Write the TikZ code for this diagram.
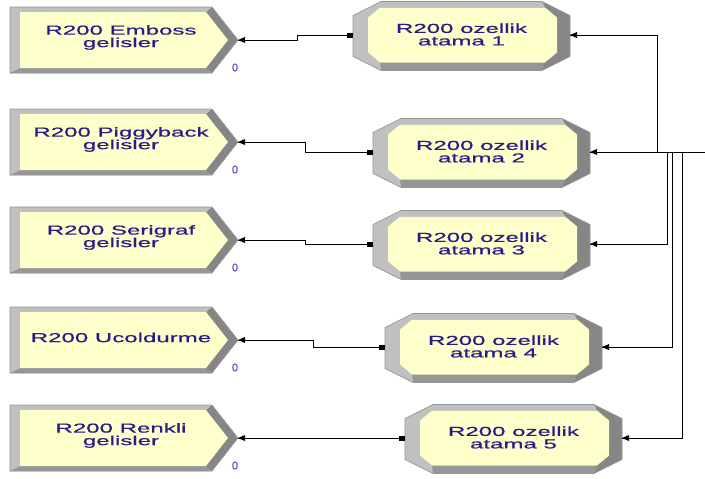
\documentclass[tikz,border=0pt]{standalone}
\usepackage{fontspec}
\setmainfont{Liberation Sans}
\newfontfamily\modfont[FakeStretch=1.85,FakeBold=0.7]{Liberation Sans}
\newfontfamily\countfont[FakeBold=0.5]{Liberation Sans}
\usetikzlibrary{calc}

\definecolor{modfill}{RGB}{255,255,204}
\definecolor{bevlight}{RGB}{192,192,192}
\definecolor{bevdark}{RGB}{134,134,134}
\definecolor{bevmid}{RGB}{150,150,150}
\definecolor{edgegray}{RGB}{150,150,150}
\definecolor{modtextcol}{RGB}{40,28,135}
\definecolor{countcol}{RGB}{80,80,205}

\tikzset{
  modtext/.style={text=modtextcol, align=center, inner sep=0pt,
    font=\modfont\fontsize{13}{12.5}\selectfont},
  counter/.style={text=countcol, inner sep=0pt,
    font=\countfont\fontsize{11}{11}\selectfont},
  conn/.style={line width=1pt, black},
  edge/.style={draw=edgegray, line width=0.6pt, line join=miter},
  % Create module: pointed box, origin at left edge, vertical centre
  pics/createmod/.style={code={
    \fill[bevdark] (0,-33) -- (202,-33) -- (228,0) -- (202,33) -- (0,33) -- cycle;
    \fill[bevmid] (0,33) -- (10,28) -- (196,28) -- (202,33) -- cycle;
    \fill[bevlight] (0,33) -- (0,-33) -- (202,-33) -- (196,-28) -- (10,-28) -- (10,28) -- cycle;
    \fill[modfill] (10,-28) -- (196,-28) -- (218,0) -- (196,28) -- (10,28) -- cycle;
    \draw[edge] (0,-33) -- (202,-33) -- (228,0) -- (202,33) -- (0,33) -- cycle;
    \node[modtext] (-label) at (111,-2.5) {#1};
    \node[counter] (-count) at (225,27.5) {0};
    \coordinate (-out) at (228,0);
    \fill[black] (228,0) -- (235,-3) -- (235,3) -- cycle;
  }},
  % Assign module: bevelled octagon, origin at left edge, vertical centre
  pics/assignmod/.style={code={
    \fill[bevdark] (0,-20.5) -- (28,-34.5) -- (189,-34.5) -- (217,-20.5) -- (217,20.5)
      -- (189,34.5) -- (28,34.5) -- (0,20.5) -- cycle;
    \fill[bevmid] (28,34.5) -- (27,26.5) -- (192,26.5) -- (189,34.5) -- cycle;
    \fill[bevlight] (28,34.5) -- (0,20.5) -- (0,-20.5) -- (28,-34.5) -- (189,-34.5)
      -- (192,-28.5) -- (27,-28.5) -- (15,-18.5) -- (15,16.5) -- (27,26.5) -- cycle;
    \fill[modfill] (15,-18.5) -- (27,-28.5) -- (192,-28.5) -- (204,-18.5) -- (204,16.5)
      -- (192,26.5) -- (27,26.5) -- (15,16.5) -- cycle;
    \draw[edge] (0,-20.5) -- (28,-34.5) -- (189,-34.5) -- (217,-20.5) -- (217,20.5)
      -- (189,34.5) -- (28,34.5) -- (0,20.5) -- cycle;
    \node[modtext] (-label) at (108.5,-1.5) {#1};
    \coordinate (-in) at (0,-1);
    \coordinate (-out) at (217,-1);
    \fill[black] (-6,-3.5) rectangle (0,1.5);
    \fill[black] (217,-1) -- (224,-4) -- (224,2) -- cycle;
  }},
}

\begin{document}
\begin{tikzpicture}[x=1pt, y=-1pt]
  \fill[white] (0,0) rectangle (705,479);
  \useasboundingbox (0,0) rectangle (705,479);

  % arrival modules
  \pic (c1) at (10,40)  {createmod={R200 Emboss\\gelisler}};
  \pic (c2) at (10,142) {createmod={R200 Piggyback\\gelisler}};
  \pic (c3) at (10,240) {createmod={R200 Serigraf\\gelisler}};
  \pic (c4) at (10,340) {createmod={R200 Ucoldurme}};
  \pic (c5) at (10,438) {createmod={R200 Renkli\\gelisler}};

  % attribute assignment modules
  \pic (a1) at (353,36)  {assignmod={R200 ozellik\\atama 1}};
  \pic (a2) at (373,153) {assignmod={R200 ozellik\\atama 2}};
  \pic (a3) at (373,245) {assignmod={R200 ozellik\\atama 3}};
  \pic (a4) at (385,348) {assignmod={R200 ozellik\\atama 4}};
  \pic (a5) at (405,439) {assignmod={R200 ozellik\\atama 5}};

  % junctions on the collecting line
  \coordinate (j1) at (657,152);
  \coordinate (j3) at (667,152);
  \coordinate (j4) at (672,152);
  \coordinate (j5) at (682,152);
  \coordinate (busend) at (705,152);

  % arrivals into assignments
  \draw[conn] (c1-out) -- ++(59,0) |- (a1-in);
  \draw[conn] (c2-out) -- ++(67,0) |- (a2-in);
  \draw[conn] (c3-out) -- ++(67,0) |- (a3-in);
  \draw[conn] (c4-out) -- ++(75,0) |- (a4-in);
  \draw[conn] (c5-out) -- (a5-in);

  % assignments out to the collecting line
  \draw[conn] (a1-out) -| (j1);
  \draw[conn] (a2-out) -- (busend);
  \draw[conn] (a3-out) -| (j3);
  \draw[conn] (a4-out) -| (j4);
  \draw[conn] (a5-out) -| (j5);
\end{tikzpicture}
\end{document}
